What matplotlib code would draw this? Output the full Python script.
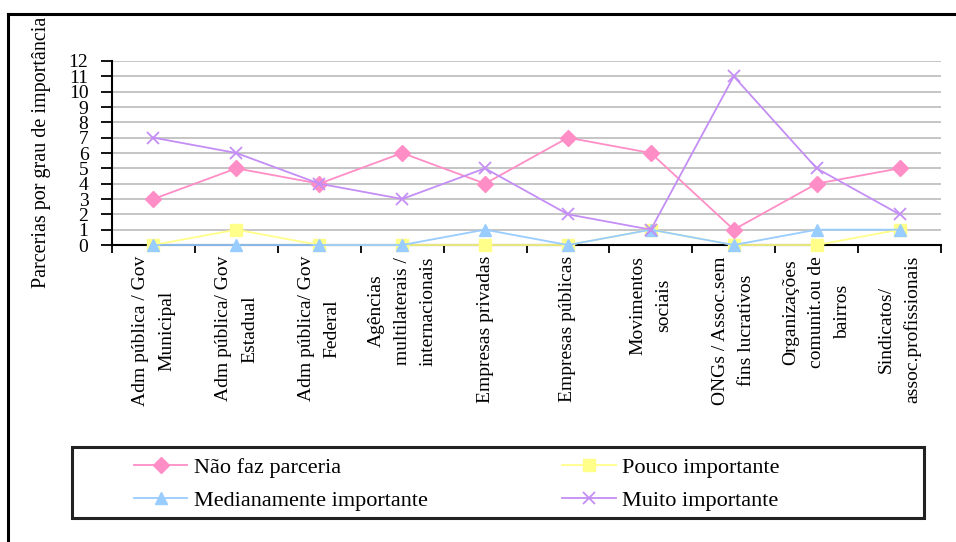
import matplotlib
matplotlib.use("Agg")
import matplotlib.pyplot as plt
from matplotlib.lines import Line2D

plt.rcParams['font.family'] = ['Liberation Serif', 'DejaVu Serif']

categories = [
    "Adm pública / Gov\nMunicipal",
    "Adm pública/ Gov\nEstadual",
    "Adm pública/ Gov\nFederal",
    "Agências\nmultilaterais /\ninternacionais",
    "Empresas privadas",
    "Empresas públicas",
    "Movimentos\nsociais",
    "ONGs / Assoc.sem\nfins lucrativos",
    "Organizações\ncomunit.ou de\nbairros",
    "Sindicatos/\nassoc.profissionais",
]

nao_faz = [3, 5, 4, 6, 4, 7, 6, 1, 4, 5]
pouco = [0, 1, 0, 0, 0, 0, 1, 0, 0, 1]
medianamente = [0, 0, 0, 0, 1, 0, 1, 0, 1, 1]
muito = [7, 6, 4, 3, 5, 2, 1, 11, 5, 2]

series_names = ["Não faz parceria", "Pouco importante",
                "Medianamente importante", "Muito importante"]
y_ticks = list(range(0, 13))

W, H = 956, 542
fig = plt.figure(figsize=(W / 100, H / 100), dpi=100)

# outer frame (top and left edges)
fig.add_artist(Line2D([8 / W, 1.0], [1 - 14 / H, 1 - 14 / H], color='black', lw=2.2,
                      transform=fig.transFigure))
fig.add_artist(Line2D([8 / W, 8 / W], [1 - 14 / H, 0.0], color='black', lw=2.2,
                      transform=fig.transFigure))

ax = fig.add_axes([112 / W, 1 - 245 / H, (941 - 112) / W, 184 / H])
x = list(range(len(categories)))

styles = [
    dict(color='#FF8EC6', marker='D', ms=8, mfc='#FF8EC6', mec='#FF8EC6'),
    dict(color='#FFFF8A', marker='s', ms=8, mfc='#FFFF8A', mec='#FFFF8A'),
    dict(color='#99CCFF', marker='^', ms=9, mfc='#99CCFF', mec='#99CCFF'),
    dict(color='#C48EF5', marker='x', ms=8, mew=1.3),
]
handles = []
for vals, name, st in zip([nao_faz, pouco, medianamente, muito], series_names, styles):
    h, = ax.plot(x, vals, lw=1.3, label=name, clip_on=False, zorder=3, **st)
    handles.append(h)

ax.set_xlim(-0.5, len(categories) - 0.5)
ax.set_ylim(0, 12)
ax.set_yticks(y_ticks)
ax.set_yticklabels([str(v) for v in y_ticks], fontsize=14)
ax.yaxis.grid(True, color='#c0c0c0', lw=1.3, zorder=0)
ax.set_axisbelow(True)

ax.set_xticks(x)
ax.set_xticklabels(categories, rotation=90, fontsize=14, ha='center', va='top',
                   multialignment='center', linespacing=1.7)
ax.tick_params(axis='x', which='major', length=0, pad=8)
ax.set_xticks([i - 0.5 for i in range(len(categories) + 1)], minor=True)
ax.tick_params(axis='x', which='minor', length=6, width=1.3, direction='out')
ax.tick_params(axis='y', which='major', length=8, width=1.3, pad=9, direction='out')

for s in ['top', 'right']:
    ax.spines[s].set_visible(False)
ax.spines['left'].set_linewidth(1.5)
ax.spines['bottom'].set_linewidth(1.5)

fig.text(42 / W, 1 - 152 / H, "Parcerias por grau de importância", rotation=90,
         ha='center', va='center', fontsize=14.5)

# legend box
fig.add_artist(plt.Rectangle((72 / W, 1 - 518 / H), (924 - 72) / W, (518 - 447) / H,
                             fill=False, ec='#222222', lw=2.2, transform=fig.transFigure))
order = [0, 2, 1, 3]
leg = fig.legend([handles[i] for i in order], [series_names[i] for i in order],
                 ncol=2, frameon=False, loc='upper left',
                 bbox_to_anchor=(134 / W, 1 - 457 / H), fontsize=16,
                 handlelength=2.4, handletextpad=0.3, columnspacing=6.05,
                 labelspacing=0.58, borderaxespad=0, borderpad=0)

fig.savefig("out.png", dpi=100)
